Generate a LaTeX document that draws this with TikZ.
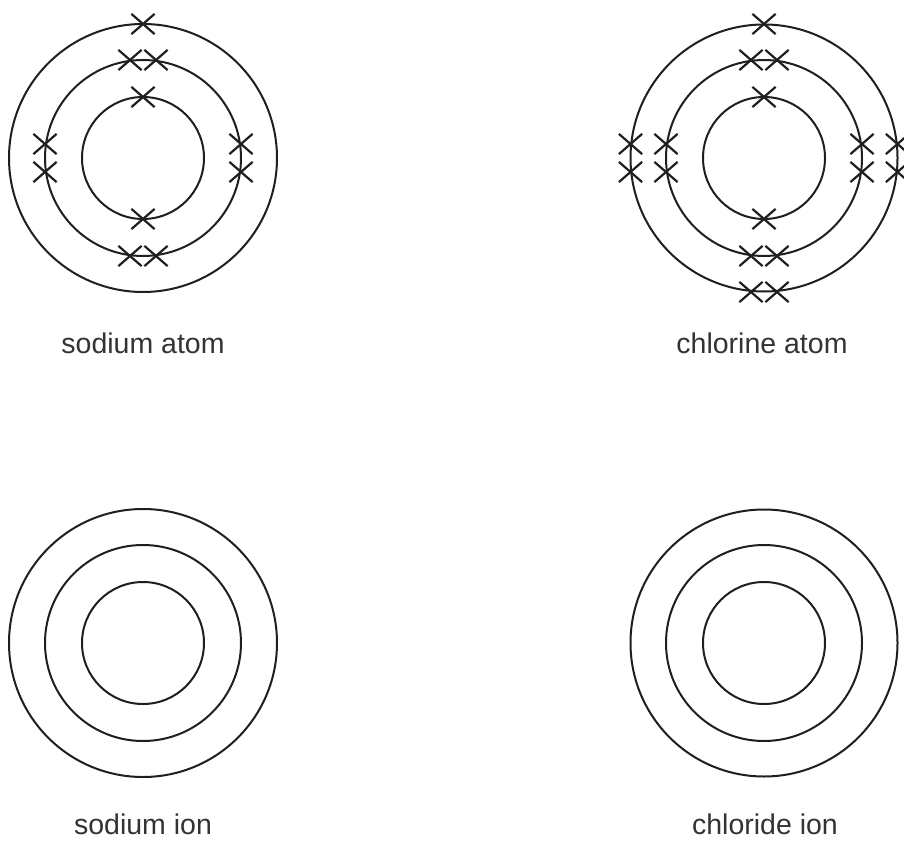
\documentclass[tikz,border=0pt]{standalone}
\usepackage{fontspec}
\setmainfont{Liberation Sans}
\usetikzlibrary{shapes.misc}
\begin{document}
\begin{tikzpicture}[x=1pt,y=-1pt,
  shell/.style={circle,draw=black!88,line width=2pt,inner sep=0pt},
  elec/.style={cross out,draw=black!88,line width=2.2pt,inner sep=0pt,minimum width=21pt,minimum height=18pt},
  lbl/.style={anchor=base,inner sep=0pt,font=\fontsize{28.5}{34}\selectfont,text=black!80}]
\useasboundingbox (0,0) rectangle (904,842);
\fill[white] (0,0) rectangle (904,842);
% sodium atom
\node[shell,minimum size=122pt] (naA1) at (143,158) {};
\node[shell,minimum size=196pt] (naA2) at (143,158) {};
\node[shell,minimum size=268pt] (naA3) at (143,158) {};
\node[elec] (na1) at (143,97) {};
\node[elec] (na2) at (143,219) {};
\node[elec] (na3) at (130,60) {};
\node[elec] (na4) at (156,60) {};
\node[elec] (na5) at (130,256) {};
\node[elec] (na6) at (156,256) {};
\node[elec] (na7) at (45,144) {};
\node[elec] (na8) at (45,172) {};
\node[elec] (na9) at (241,144) {};
\node[elec] (na10) at (241,172) {};
\node[elec] (na11) at (143,24) {};
\node[lbl] (lnaA) at (143,353) {sodium atom};
% chlorine atom
\node[shell,minimum size=122pt] (clA1) at (764,158) {};
\node[shell,minimum size=196pt] (clA2) at (764,158) {};
\node[shell,minimum size=267pt] (clA3) at (764,158) {};
\node[elec] (cl1) at (764,97) {};
\node[elec] (cl2) at (764,219) {};
\node[elec] (cl3) at (751,60) {};
\node[elec] (cl4) at (777,60) {};
\node[elec] (cl5) at (751,256) {};
\node[elec] (cl6) at (777,256) {};
\node[elec] (cl7) at (666,144) {};
\node[elec] (cl8) at (666,172) {};
\node[elec] (cl9) at (862,144) {};
\node[elec] (cl10) at (862,172) {};
\node[elec] (cl11) at (764,24) {};
\node[elec] (cl12) at (630.5,144) {};
\node[elec] (cl13) at (630.5,172) {};
\node[elec] (cl14) at (897.5,144) {};
\node[elec] (cl15) at (897.5,172) {};
\node[elec] (cl16) at (751,292) {};
\node[elec] (cl17) at (777,292) {};
\node[lbl] (lclA) at (762,353) {chlorine atom};
% sodium ion
\node[shell,minimum size=122pt] (naI1) at (143,643) {};
\node[shell,minimum size=196pt] (naI2) at (143,643) {};
\node[shell,minimum size=268pt] (naI3) at (143,643) {};
\node[lbl] (lnaI) at (143,834) {sodium ion};
% chloride ion
\node[shell,minimum size=122pt] (clI1) at (764,643) {};
\node[shell,minimum size=196pt] (clI2) at (764,643) {};
\node[shell,minimum size=267pt] (clI3) at (764,643) {};
\node[lbl] (lclI) at (765,834) {chloride ion};
\end{tikzpicture}
\end{document}
